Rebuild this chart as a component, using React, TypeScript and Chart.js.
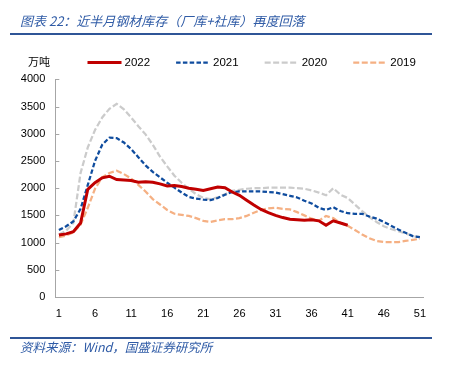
import React, { useEffect, useRef } from "react";
import { Chart, registerables } from "chart.js";

Chart.register(...registerables);

const weeks = [
  "1", "2", "3", "4", "5", "6", "7", "8", "9", "10",
  "11", "12", "13", "14", "15", "16", "17", "18", "19", "20",
  "21", "22", "23", "24", "25", "26", "27", "28", "29", "30",
  "31", "32", "33", "34", "35", "36", "37", "38", "39", "40",
  "41", "42", "43", "44", "45", "46", "47", "48", "49", "50", "51",
];

const y2022 = [
  1140, 1160, 1200, 1360, 1980, 2100, 2190, 2220, 2160, 2150,
  2140, 2110, 2120, 2110, 2080, 2040, 2050, 2030, 2000, 1980,
  1960, 1990, 2020, 2010, 1930, 1870, 1780, 1690, 1610, 1550,
  1500, 1460, 1430, 1420, 1410, 1420, 1400, 1320, 1400, 1360,
  1320,
];

const y2021 = [
  1230, 1300, 1390, 1620, 2060, 2500, 2800, 2930, 2920, 2840,
  2720, 2570, 2420, 2300, 2200, 2100, 2010, 1920, 1840, 1810,
  1790, 1780, 1820, 1880, 1930, 1940, 1940, 1940, 1940, 1930,
  1920, 1890, 1860, 1830, 1770, 1720, 1640, 1600, 1650, 1580,
  1540, 1530, 1530, 1480, 1440, 1380, 1310, 1240, 1180, 1120, 1100,
];

const y2020 = [
  1150, 1220, 1360, 2280, 2750, 3070, 3300, 3460, 3550, 3450,
  3300, 3140, 2990, 2800, 2580, 2400, 2230, 2100, 1990, 1890,
  1820, 1800, 1830, 1890, 1950, 1970, 1990, 2000, 2000, 2010,
  2010, 2010, 2010, 2000, 1990, 1960, 1920, 1870, 2000, 1880,
  1820, 1700, 1580, 1470, 1380, 1300, 1250, 1210, 1170, 1120, 1100,
];

const y2019 = [
  1100, 1130, 1190, 1330, 1640, 1990, 2200, 2280, 2320, 2260,
  2180, 2060, 1940, 1800, 1700, 1600, 1530, 1510, 1490, 1450,
  1400, 1380, 1410, 1430, 1430, 1450, 1490, 1550, 1600, 1630,
  1640, 1620, 1610, 1560, 1500, 1440, 1400, 1490, 1450, 1360,
  1310, 1230, 1150, 1080, 1030, 1010, 1010, 1010, 1030, 1050, 1070,
];

const seriesNames = ["2022", "2021", "2020", "2019"];
const yMin = 0;
const yMax = 4000;
const yStep = 500;

const AXIS_COLOR = "#A6A6A6";
const TEXT_BLUE = "#2F5BA6";

const legendPlugin = {
  id: "lineLegend",
  afterDraw(chart: any) {
    const ctx = chart.ctx;
    ctx.save();
    ctx.font = "11.5px 'Liberation Sans', Arial, sans-serif";
    ctx.textBaseline = "middle";
    ctx.textAlign = "left";
    let x = 87.5;
    const y = 62.5;
    chart.data.datasets.forEach((ds: any) => {
      ctx.beginPath();
      ctx.setLineDash(ds.borderDash || []);
      ctx.lineWidth = ds.borderWidth;
      ctx.strokeStyle = ds.borderColor;
      ctx.moveTo(x, y);
      ctx.lineTo(x + 34, y);
      ctx.stroke();
      ctx.setLineDash([]);
      ctx.fillStyle = "#000";
      ctx.fillText(ds.label, x + 37, y);
      x += 37 + ctx.measureText(ds.label).width + 26;
    });
    ctx.restore();
  },
};

const innerTicksPlugin = {
  id: "innerTicks",
  afterDraw(chart: any) {
    const s = chart.scales.y;
    const ctx = chart.ctx;
    ctx.save();
    ctx.strokeStyle = AXIS_COLOR;
    ctx.lineWidth = 1;
    s.ticks.forEach((t: any) => {
      const py = Math.round(s.getPixelForValue(t.value)) + 0.5;
      ctx.beginPath();
      ctx.moveTo(s.right, py);
      ctx.lineTo(s.right + 4, py);
      ctx.stroke();
    });
    ctx.restore();
  },
};

function ChartCanvas() {
  const ref = useRef<HTMLCanvasElement | null>(null);
  useEffect(() => {
    if (!ref.current) return;
    const chart = new Chart(ref.current, {
      type: "line",
      data: {
        labels: weeks,
        datasets: [
          {
            label: seriesNames[0],
            data: y2022,
            borderColor: "#C00000",
            borderWidth: 3,
            pointRadius: 0,
            tension: 0,
            fill: false,
          },
          {
            label: seriesNames[1],
            data: y2021,
            borderColor: "#0F4C9E",
            borderWidth: 2.25,
            borderDash: [4.5, 2.3],
            pointRadius: 0,
            tension: 0,
            fill: false,
          },
          {
            label: seriesNames[2],
            data: y2020,
            borderColor: "#CBCBCB",
            borderWidth: 2.25,
            borderDash: [6, 2.5],
            pointRadius: 0,
            tension: 0,
            fill: false,
          },
          {
            label: seriesNames[3],
            data: y2019,
            borderColor: "#F5B083",
            borderWidth: 2.25,
            borderDash: [6, 2.5],
            pointRadius: 0,
            tension: 0,
            fill: false,
          },
        ],
      },
      options: {
        responsive: false,
        animation: false,
        devicePixelRatio: 1,
        layout: { padding: { left: 5.3, right: 25.5, top: 79.4, bottom: 47 } },
        plugins: {
          legend: { display: false },
          tooltip: { enabled: false },
          title: { display: false },
        },
        scales: {
          x: {
            type: "category",
            offset: true,
            grid: { display: true, drawOnChartArea: false, drawTicks: false },
            border: { display: true, color: AXIS_COLOR, width: 1 },
            ticks: {
              autoSkip: false,
              maxRotation: 0,
              minRotation: 0,
              padding: 10,
              color: "#000",
              font: { family: "'Liberation Sans', Arial, sans-serif", size: 11 },
              callback: (_v: any, i: number) => (i % 5 === 0 ? weeks[i] : ""),
            },
            afterFit: (s: any) => {
              s.height = 25;
            },
          },
          y: {
            min: yMin,
            max: yMax,
            grid: { display: true, drawOnChartArea: false, drawTicks: false },
            border: { display: true, color: AXIS_COLOR, width: 1 },
            ticks: {
              stepSize: yStep,
              padding: 10,
              color: "#000",
              font: { family: "'Liberation Sans', Arial, sans-serif", size: 11 },
              callback: (v: any) => String(v),
            },
            afterFit: (s: any) => {
              s.width = 50;
            },
          },
        },
      },
      plugins: [legendPlugin, innerTicksPlugin],
    });
    return () => chart.destroy();
  }, []);
  return <canvas ref={ref} width={449} height={369} style={{ display: "block" }} />;
}

export default function App() {
  const cjk = "'Noto Sans CJK SC', 'Noto Sans', sans-serif";
  return (
    <div style={{ position: "absolute", left: 0, top: 0, width: 449, height: 369, background: "#fff", overflow: "hidden" }}>
      <div style={{ position: "absolute", left: 0, top: 0 }}>
        <ChartCanvas />
      </div>
      <div style={{ position: "absolute", left: 20, top: 12, fontFamily: cjk, fontStyle: "italic", fontSize: 13, lineHeight: "17px", color: TEXT_BLUE, whiteSpace: "nowrap" }}>
        图表 22：近半月钢材库存（厂库+社库）再度回落
      </div>
      <div style={{ position: "absolute", left: 10, top: 33, width: 422, height: 2, background: "#2F5597" }} />
      <div style={{ position: "absolute", left: 28, top: 53, fontFamily: cjk, fontSize: 11, lineHeight: "16px", color: "#000", whiteSpace: "nowrap" }}>
        万吨
      </div>
      <div style={{ position: "absolute", left: 10, top: 337, width: 422, height: 2, background: "#2F5597" }} />
      <div style={{ position: "absolute", left: 20, top: 339, fontFamily: cjk, fontStyle: "italic", fontSize: 12.5, lineHeight: "16px", color: TEXT_BLUE, whiteSpace: "nowrap" }}>
        资料来源：Wind，国盛证券研究所
      </div>
    </div>
  );
}
